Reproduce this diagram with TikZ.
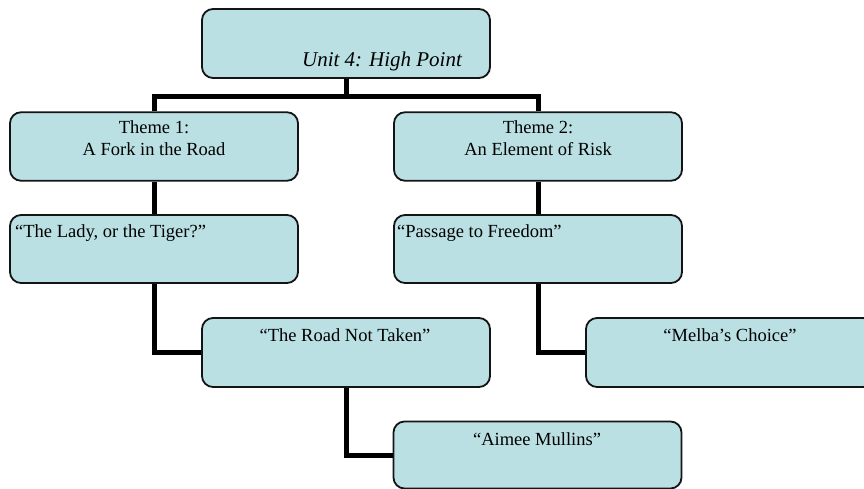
\documentclass[tikz,border=0pt]{standalone}
\usepackage{fontspec}
\setmainfont{Liberation Serif}
\definecolor{boxfill}{RGB}{187,224,227}
\definecolor{boxline}{RGB}{20,20,20}
\begin{document}
\begin{tikzpicture}[x=1pt,y=-1pt,
  box/.style={draw=boxline, fill=boxfill, line width=1.8pt, rounded corners=11pt,
    minimum width=288pt, minimum height=68.5pt, inner sep=0pt},
  txt/.style={font=\fontsize{18.5}{22}\selectfont, inner sep=0pt, anchor=base},
  link/.style={line width=5pt, line join=miter}]
\clip (0,0) rectangle (864,489);
\useasboundingbox (0,0) rectangle (864,489);
\fill[white] (0,0) rectangle (864,489);

% boxes
\node[box, minimum height=69pt] (top) at (346,43.5) {};
\node[box] (t1) at (154,146.5) {};
\node[box] (t2) at (538,146.5) {};
\node[box, minimum height=68pt] (lady) at (154,249) {};
\node[box, minimum height=68pt] (passage) at (538,249) {};
\node[box, minimum height=69pt] (road) at (346,352.5) {};
\node[box, minimum height=69pt] (melba) at (730,352.5) {};
\node[box, minimum height=67pt] (aimee) at (537.5,455) {};

% connectors
\coordinate (bar) at (346,96.5);
\draw[link] (top.south) -- (bar);
\draw[link] (t1.north) |- (bar) -| (t2.north);
\draw[link] (t1.south) -- (lady.north);
\draw[link] (t2.south) -- (passage.north);
\draw[link] (lady.south) |- (road.west);
\draw[link] (road.south) |- (aimee.west);
\draw[link] (passage.south) |- (melba.west);

% labels
\node[txt, font=\fontsize{21}{25}\selectfont\itshape] (ttop) at (382,67) {Unit 4: High Point};
\node[txt] (t1a) at (154,134) {Theme 1:};
\node[txt] (t1b) at (154,156) {A Fork in the Road};
\node[txt] (t2a) at (538,134) {Theme 2:};
\node[txt] (t2b) at (538,156) {An Element of Risk};
\node[txt, anchor=base west] (tlady) at (15,237) {“The Lady, or the Tiger?”};
\node[txt, anchor=base west] (tpass) at (397,237) {“Passage to Freedom”};
\node[txt] (troad) at (345,341) {“The Road Not Taken”};
\node[txt] (tmelba) at (730,341) {“Melba’s Choice”};
\node[txt] (taimee) at (537,445) {“Aimee Mullins”};
\end{tikzpicture}
\end{document}
